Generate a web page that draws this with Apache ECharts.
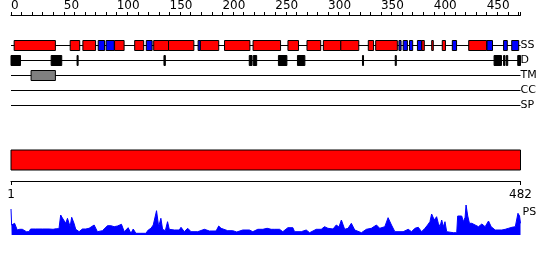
<!DOCTYPE html>
<html><head><meta charset="utf-8">
<script src="https://cdn.jsdelivr.net/npm/echarts@6/dist/echarts.min.js"></script>
<style>html,body{margin:0;padding:0;background:#fff}#c{width:550px;height:260px}</style>
</head><body><div id="c"></div>
<script>
// ---------------- data ----------------
const seqLength = 482;
const trackNames = ['SS', 'D', 'TM', 'CC', 'SP'];
const helixSegments = [[3,42],[56,65],[68,80],[98,107],[117,125.5],[135,149],[149,173],[179,196.5],[202,226],[229,255],[262,272],[280,293],[295.5,312],[312,329],[338,343],[345,365.5],[388.5,391],[398,399.5],[408,411],[433,450]];
const strandSegments = [[82.5,88.5],[90,97.7],[128,133.5],[177,179],[367,369],[371,375],[377,380],[384.5,388.5],[417.5,421.5],[450.3,455.5],[466,469.5],[473.7,480.3]];
const disorderSegments = [[0,9],[38,48],[62.5,63.5],[144.7,146],[225.4,228],[229.2,232.4],[253,261],[271,278],[332.5,333.5],[363.5,364.5],[457,464],[466,467.3],[468.6,469.9],[479.4,482]];
const tmSegments = [[19,42]];
const ccSegments = [];
const spSegments = [];
const domainSegments = [[1,482]];
const topTickStep = 10;
const topLabelStep = 50;
const bottomTickLabels = [1, 482];
const psPositions = [1,1.6,2.8,4.4,6.9,9.2,11.7,13.2,15.5,18,19.5,24.3,30.6,36.9,38.5,40.7,43.8,46.3,47.9,49.5,51.1,52.7,54.3,55.8,56.8,58.3,60.5,62.1,65.3,68.4,71.6,74.7,79.5,81,82.6,87.3,92.1,95.3,98.4,101.5,105.3,107.9,111.6,114.2,116.4,118.9,123.6,128.3,130.6,133.1,135.3,138.4,140.4,142.5,144.1,146.7,148.8,150.4,155.2,159.9,161.5,164.6,167.8,171,177.3,183.6,188.3,194.6,197.1,199.3,200.9,205.6,210.4,214.1,219.8,226.1,229.3,234,238.8,242.8,246.6,249.8,254.5,257.6,262.4,267.1,268.7,275,279.7,282.9,289.2,293.9,297,300.2,301.8,305,308.1,310.6,312.9,316,319.2,322.3,325.5,331.8,336.5,341.2,346,349.1,353.9,357,360.2,363.4,371.2,376,379.1,382.3,385.5,388.6,391.8,394.3,396.5,398.1,400.6,402.8,404.4,406,407.6,409.2,410.7,412.3,418.6,421.8,422.7,424.3,426.5,428.1,429.7,430.6,432.2,433.8,436,439.2,442.3,445.5,448.6,451.8,454.3,458.1,464.4,467.6,470.7,473.9,477.1,479.6,481.1,482];
const psScores = [26,10,10,11.7,5,5.7,5.7,7,3.3,3.3,6,6,6,6,5,5.7,6.3,6.3,20,17,18.3,11.7,16.7,16.7,8.3,17.7,11.7,5.7,3.3,6,6,6.7,10,10,3.3,4.3,9.3,9.3,8.3,9,10.7,3.3,7.3,1.7,6,1.7,1.7,1.7,5,6.7,10,24.3,8.3,16.7,5.7,4.3,13.3,5.7,5,5,7.7,3.3,6.7,3.3,3.3,5.7,4,4,9,6.7,7.7,4.3,4.3,3,5,5,3.3,5.7,5.7,6.7,5.7,5.7,5.7,3.3,7.3,7.3,3.3,3.3,5,2.3,5.7,5.7,8.3,6.7,8.3,6,10,8,15,5.7,6.7,11.7,5,2.3,5.7,6.7,10,6.7,8.3,17.3,10,3.3,3.3,5.7,3.3,6.7,7.7,3.3,6.7,10,13.3,21,15,18.3,11.7,8.3,15,8.3,13.3,3.3,2.3,2.3,19,17.7,19,13.3,17.7,30,19,11.7,11.7,10,8.3,11,8.3,14,8.3,5,5,5.7,6.7,7.7,8.3,21.7,19,11.7];

// ---------------- layout / style ----------------
const TRACK_Y = [30.5, 45.5, 60.5, 75.5, 90.5]; // y in grid-0 units (px below ruler)
const BOX_H = 10;
const DOMAIN_Y = [135, 155];
const FILLS = { helix: '#ff0000', strand: '#0000ff', disorder: '#000000', tm: '#808080', cc: '#808080', sp: '#808080' };
const FONT = 'DejaVu Sans';

const featureData = [];
helixSegments.forEach(s => featureData.push([s[0], s[1], 0, 'helix']));
strandSegments.forEach(s => featureData.push([s[0], s[1], 0, 'strand']));
disorderSegments.forEach(s => featureData.push([s[0], s[1], 1, 'disorder']));
tmSegments.forEach(s => featureData.push([s[0], s[1], 2, 'tm']));
ccSegments.forEach(s => featureData.push([s[0], s[1], 3, 'cc']));
spSegments.forEach(s => featureData.push([s[0], s[1], 4, 'sp']));

const chart = echarts.init(document.getElementById('c'), null, { renderer: 'canvas' });
chart.setOption({
  animation: false,
  backgroundColor: '#fff',
  grid: [
    { left: 11, width: 509.5, top: 15, height: 166 },
    { left: 11, width: 509.5, top: 205, height: 30 }
  ],
  xAxis: [
    { gridIndex: 0, type: 'value', position: 'top', min: 0, max: seqLength, interval: topTickStep,
      axisLine: { show: true, onZero: false, lineStyle: { color: '#000', width: 1 } },
      axisTick: { show: true, length: 3, lineStyle: { color: '#000', width: 1 } },
      axisLabel: { show: true, color: '#000', fontSize: 12, fontFamily: FONT, align: 'left', margin: 3,
        formatter: v => (v % topLabelStep === 0 ? String(v) : '') },
      splitLine: { show: false } },
    { gridIndex: 0, type: 'value', position: 'bottom', min: 1, max: seqLength,
      axisLine: { show: true, onZero: false, lineStyle: { color: '#000', width: 1 } },
      axisTick: { show: true, length: 4, customValues: bottomTickLabels, lineStyle: { color: '#000', width: 1 } },
      axisLabel: { show: true, color: '#000', fontSize: 12, fontFamily: FONT, margin: 8, customValues: bottomTickLabels },
      splitLine: { show: false } },
    { gridIndex: 1, type: 'value', min: 1, max: seqLength, show: false }
  ],
  yAxis: [
    { gridIndex: 0, type: 'value', min: 0, max: 166, inverse: true, show: false },
    { gridIndex: 1, type: 'value', min: 0, max: 30, show: false }
  ],
  series: [
    { type: 'custom', xAxisIndex: 0, yAxisIndex: 0, clip: false, silent: true,
      data: trackNames.map((n, i) => [i]),
      renderItem: (params, api) => {
        const i = api.value(0);
        const a = api.coord([0, TRACK_Y[i]]);
        const b = api.coord([seqLength, TRACK_Y[i]]);
        return { type: 'group', children: [
          { type: 'line', shape: { x1: a[0], y1: a[1], x2: b[0], y2: b[1] }, style: { stroke: '#000', lineWidth: 1 } },
          { type: 'text', x: b[0], y: b[1], style: { text: trackNames[i], fill: '#000', font: '11px ' + FONT, textAlign: 'left', textVerticalAlign: 'middle' } }
        ] };
      } },
    { type: 'custom', xAxisIndex: 0, yAxisIndex: 0, clip: false, silent: true,
      data: featureData,
      renderItem: (params, api) => {
        const d = featureData[params.dataIndex];
        const y = TRACK_Y[d[2]];
        const p0 = api.coord([d[0], y - BOX_H / 2]);
        const p1 = api.coord([d[1], y + BOX_H / 2]);
        return { type: 'rect', shape: { x: p0[0], y: p0[1], width: p1[0] - p0[0], height: p1[1] - p0[1] },
          style: { fill: FILLS[d[3]], stroke: '#000', lineWidth: 1 } };
      } },
    { type: 'custom', xAxisIndex: 0, yAxisIndex: 0, clip: false, silent: true,
      data: domainSegments,
      renderItem: (params, api) => {
        const p0 = api.coord([api.value(0) - 1, DOMAIN_Y[0]]);
        const p1 = api.coord([api.value(1), DOMAIN_Y[1]]);
        return { type: 'rect', shape: { x: p0[0], y: p0[1], width: p1[0] - p0[0], height: p1[1] - p0[1] },
          style: { fill: '#ff0000', stroke: '#000', lineWidth: 1 } };
      } },
    { type: 'line', xAxisIndex: 2, yAxisIndex: 1, silent: true, showSymbol: false, smooth: false,
      data: psPositions.map((p, i) => [p, psScores[i]]),
      lineStyle: { color: '#0000ff', width: 1 },
      areaStyle: { color: '#0000ff', opacity: 1 } },
    { type: 'custom', xAxisIndex: 2, yAxisIndex: 1, clip: false, silent: true,
      data: [[seqLength, 23]],
      renderItem: (params, api) => {
        const p = api.coord([api.value(0), api.value(1)]);
        return { type: 'text', x: p[0] + 2, y: p[1], style: { text: 'PS', fill: '#000', font: '11px ' + FONT, textAlign: 'left', textVerticalAlign: 'middle' } };
      } }
  ]
});
</script>
</body></html>
